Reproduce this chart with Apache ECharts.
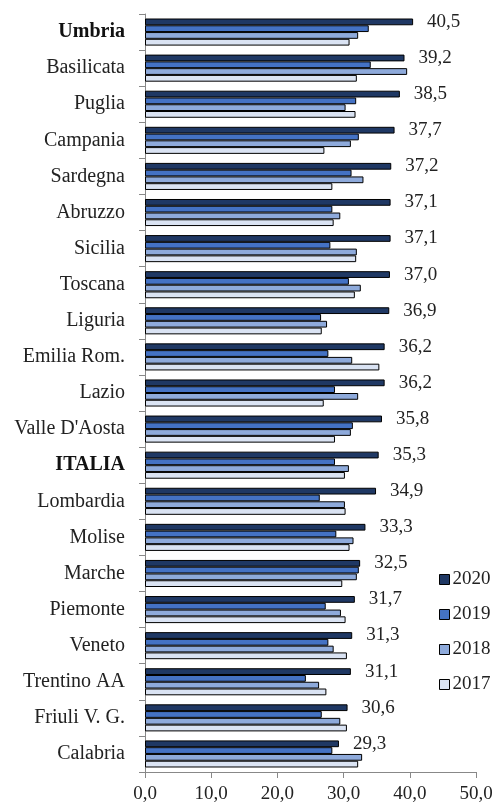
<!DOCTYPE html>
<html>
<head>
<meta charset="utf-8">
<script src="https://cdn.jsdelivr.net/npm/echarts@6/dist/echarts.min.js"></script>
<style>
  html, body { margin: 0; padding: 0; background: #fff; }
  #chart { width: 498px; height: 806px; }
</style>
</head>
<body>
<div id="chart"></div>
<script>
// Regions, sorted by the 2020 value (top to bottom)
const regions = [
  'Umbria', 'Basilicata', 'Puglia', 'Campania', 'Sardegna', 'Abruzzo', 'Sicilia',
  'Toscana', 'Liguria', 'Emilia Rom.', 'Lazio', "Valle D'Aosta", 'ITALIA',
  'Lombardia', 'Molise', 'Marche', 'Piemonte', 'Veneto', 'Trentino AA',
  'Friuli V. G.', 'Calabria'
];

const values2020 = [40.5, 39.2, 38.5, 37.7, 37.2, 37.1, 37.1, 37.0, 36.9, 36.2, 36.2, 35.8, 35.3, 34.9, 33.3, 32.5, 31.7, 31.3, 31.1, 30.6, 29.3];
const values2019 = [33.8, 34.1, 31.9, 32.3, 31.2, 28.3, 28.0, 30.8, 26.6, 27.7, 28.7, 31.4, 28.7, 26.4, 28.9, 32.3, 27.3, 27.7, 24.3, 26.7, 28.3];
const values2018 = [32.2, 39.6, 30.3, 31.1, 33.0, 29.5, 32.0, 32.6, 27.5, 31.3, 32.2, 31.1, 30.8, 30.2, 31.5, 32.0, 29.6, 28.5, 26.3, 29.5, 32.8];
const values2017 = [30.9, 32.0, 31.8, 27.1, 28.3, 28.5, 31.9, 31.7, 26.7, 35.4, 27.0, 28.7, 30.2, 30.3, 30.9, 29.8, 30.3, 30.5, 27.4, 30.5, 32.2];

const xTicks = { min: 0, max: 50, step: 10 };
const boldRegions = ['Umbria', 'ITALIA'];

const FONT = '"Liberation Serif", "DejaVu Serif", serif';
const fmt = v => v.toFixed(1).replace('.', ',');

function makeSeries(name, data, color, withLabel) {
  return {
    name: name,
    type: 'bar',
    data: data,
    barGap: '0%',
    barCategoryGap: '25%',
    itemStyle: { color: color, borderColor: '#000', borderWidth: 1 },
    label: withLabel ? {
      show: true,
      position: 'right',
      distance: 14,
      formatter: p => fmt(p.value),
      fontFamily: FONT,
      fontSize: 19,
      color: '#222'
    } : { show: false },
    emphasis: { disabled: true },
    animation: false
  };
}

const chart = echarts.init(document.getElementById('chart'), null, { renderer: 'canvas' });
chart.setOption({
  animation: false,
  textStyle: { fontFamily: FONT },
  grid: { left: 145, right: 22, top: 14, bottom: 34, containLabel: false },
  legend: {
    orient: 'vertical',
    left: 434,
    top: 565,
    itemWidth: 10,
    itemHeight: 10,
    itemGap: 16,
    icon: 'rect',
    textStyle: { fontFamily: FONT, fontSize: 19, color: '#222', padding: [0, 0, 0, -2] },
    itemStyle: { borderColor: '#000', borderWidth: 1 },
    selectedMode: false
  },
  xAxis: {
    type: 'value',
    min: xTicks.min,
    max: xTicks.max,
    interval: xTicks.step,
    axisLine: { show: true, lineStyle: { color: '#888', width: 1 } },
    axisTick: { show: true, length: 6, lineStyle: { color: '#888' } },
    splitLine: { show: false },
    axisLabel: {
      formatter: v => fmt(v),
      fontFamily: FONT,
      fontSize: 19,
      color: '#222',
      margin: 13
    }
  },
  yAxis: {
    type: 'category',
    data: regions,
    inverse: true,
    axisLine: { show: true, lineStyle: { color: '#888', width: 1 } },
    axisTick: { show: true, length: 6, lineStyle: { color: '#888' } },
    axisLabel: {
      fontFamily: FONT,
      fontSize: 20,
      color: '#222',
      margin: 20,
      formatter: v => boldRegions.includes(v) ? '{b|' + v + '}' : v,
      rich: {
        b: { fontFamily: FONT, fontSize: 20, fontWeight: 'bold', color: '#111' }
      }
    }
  },
  series: [
    makeSeries('2020', values2020, '#1f3864', true),
    makeSeries('2019', values2019, '#4472c4', false),
    makeSeries('2018', values2018, '#8eaadb', false),
    makeSeries('2017', values2017, '#dae3f3', false)
  ]
});
</script>
</body>
</html>
